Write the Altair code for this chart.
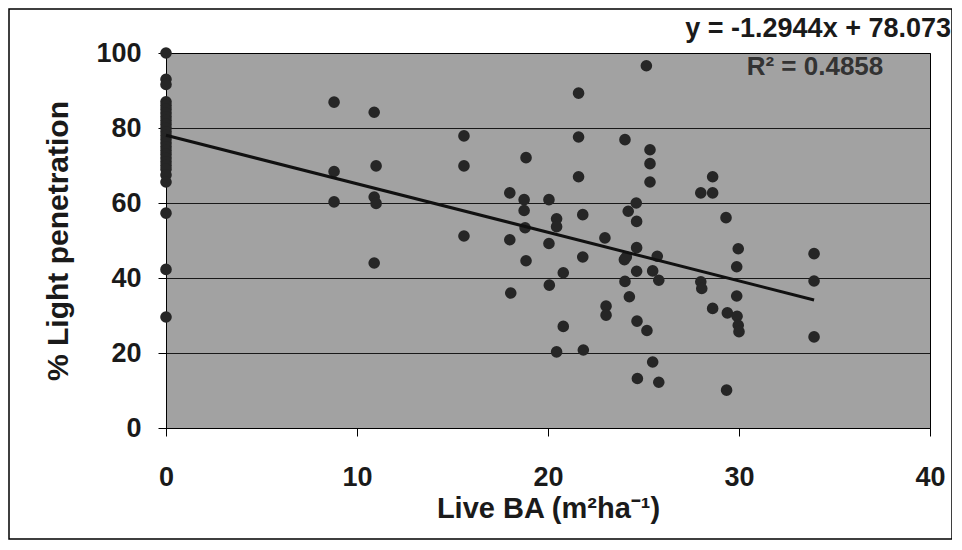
import altair as alt
import pandas as pd

# ---- data ----
live_ba = [
    0, 0, 0, 0, 0, 0, 0, 0, 0, 0, 0, 0, 0, 0, 0, 0, 0, 0, 0, 0, 0, 0, 0, 0, 0, 0, 0,
    8.8, 8.8, 8.8,
    10.9, 11.0, 10.9, 11.0, 10.9,
    15.6, 15.6, 15.6,
    18.0, 18.0, 18.05,
    18.85, 18.75, 18.75, 18.8, 18.85,
    20.05, 20.05, 20.07,
    20.45, 20.45, 20.45,
    20.8, 20.8,
    21.6, 21.6, 21.6,
    21.82, 21.82, 21.85,
    22.98,
    23.04, 23.04,
    24.03, 24.03, 24.0, 24.1, 24.2, 24.26,
    24.62, 24.64, 24.64, 24.64, 24.66, 24.68,
    25.15, 25.18,
    25.34, 25.34, 25.34,
    25.48, 25.48,
    25.72, 25.8, 25.8,
    28.0, 28.0, 28.05,
    28.62, 28.62, 28.62,
    29.32, 29.39, 29.35,
    29.96, 29.88, 29.88, 29.9, 29.96, 30.0,
    33.93, 33.93, 33.93,
]
light_pen = [
    100, 93, 91.6, 87, 86, 85, 84, 83, 82, 81, 80, 79, 78, 77, 76, 75, 74, 73, 72, 71,
    70, 69, 67.5, 65.6, 57.3, 42.3, 29.6,
    86.9, 68.4, 60.3,
    84.2, 69.9, 61.6, 59.9, 44.0,
    77.9, 69.9, 51.2,
    62.7, 50.2, 36.0,
    72.1, 60.9, 58.0, 53.4, 44.6,
    60.9, 49.2, 38.1,
    55.8, 53.7, 20.3,
    41.4, 27.1,
    89.3, 77.6, 67.0,
    56.9, 45.6, 20.8,
    50.7,
    32.5, 30.1,
    76.9, 39.1, 44.9, 45.6, 57.8, 35.0,
    60.0, 55.1, 48.1, 41.8, 28.5, 13.2,
    96.6, 26.0,
    74.2, 70.5, 65.6,
    41.9, 17.6,
    45.8, 39.4, 12.2,
    62.7, 39.0, 37.2,
    67.0, 62.7, 31.9,
    56.1, 30.7, 10.1,
    47.8, 43.0, 35.2, 29.8, 27.4, 25.7,
    46.5, 39.2, 24.3,
]

slope = -1.2944
intercept = 78.073
r_squared = 0.4858

x_ticks = [0, 10, 20, 30, 40]
y_ticks = [0, 20, 40, 60, 80, 100]

eq_text = "y = -1.2944x + 78.073"
r2_text = "R\u00b2 = 0.4858"
x_title = "Live BA (m\u00b2ha\u207b\u00b9)"
y_title = "% Light penetration"

# ---- tables ----
pts = pd.DataFrame({"x": live_ba, "y": light_pen})
x_end = max(live_ba)
fit = pd.DataFrame({"x": [0, x_end], "y": [intercept, intercept + slope * x_end]})

FONT = "Liberation Sans"
INK = "#1a1a1a"

xs = alt.Scale(domain=[0, 40], nice=False, zero=False)
ys = alt.Scale(domain=[0, 100], nice=False)

x_axis = alt.Axis(
    values=x_ticks, title=x_title, grid=False, labelFontSize=27, labelFont=FONT,
    labelFontWeight="bold", labelColor=INK, titleFontSize=29, titleFont=FONT,
    titleFontWeight="bold", titleColor=INK, tickSize=8, tickColor="black",
    domainColor="black", labelPadding=28, titlePadding=4, labelFlush=False,
)
y_axis = alt.Axis(
    values=y_ticks, title=y_title, grid=True, gridColor="black", gridWidth=1,
    gridOpacity=0.85, labelFontSize=27, labelFont=FONT, labelFontWeight="bold",
    labelColor=INK, titleFontSize=30, titleFont=FONT, titleFontWeight="bold",
    titleColor=INK, tickSize=8, tickColor="black", domainColor="black",
    labelPadding=17, titlePadding=22, labelFlush=False,
)

frame = alt.Chart(pd.DataFrame({"k": [0]})).mark_rect(
    fill=None, stroke="black", strokeWidth=1.5, clip=False
).encode(
    x=alt.value(-157), x2=alt.value(786), y=alt.value(-44), y2=alt.value(486)
)

points = alt.Chart(pts).mark_circle(size=135, color="#262626", opacity=1).encode(
    x=alt.X("x:Q", scale=xs, axis=x_axis),
    y=alt.Y("y:Q", scale=ys, axis=y_axis),
)

line = alt.Chart(fit).mark_line(color="#111111", strokeWidth=3).encode(
    x=alt.X("x:Q", scale=xs), y=alt.Y("y:Q", scale=ys)
)

eq = alt.Chart(pd.DataFrame({"t": [eq_text]})).mark_text(
    font=FONT, fontSize=27, fontWeight="bold", color=INK, align="right",
    baseline="alphabetic", clip=False
).encode(text="t:N", x=alt.value(785), y=alt.value(-16))

r2 = alt.Chart(pd.DataFrame({"t": [r2_text]})).mark_text(
    font=FONT, fontSize=26, fontWeight="bold", color="#333333", align="center",
    baseline="alphabetic"
).encode(text="t:N", x=alt.value(649), y=alt.value(22))

chart = alt.layer(frame, points, line, eq, r2).properties(
    width=764, height=375,
    autosize=alt.AutoSizeParams(type="none"),
    padding={"left": 158, "top": 45, "right": 22, "bottom": 112},
    background="white",
).configure_view(
    fill="#a2a2a2", stroke="black", strokeWidth=1
)

chart.save("out.html", embed_options={"renderer": "svg", "actions": False})
